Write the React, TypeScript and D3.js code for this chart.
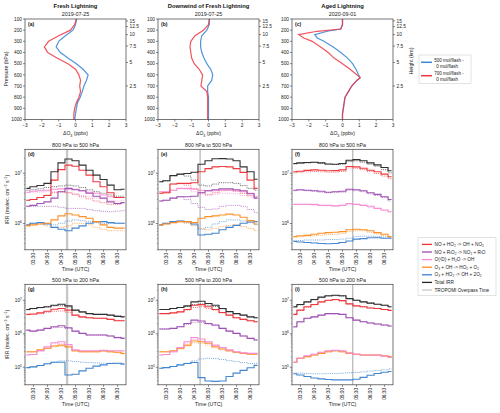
import React from 'react';
import * as d3 from 'd3';

const FONT = "'Liberation Sans', Arial, Helvetica, sans-serif";

// ---------------- Top row: ΔO3 profiles ----------------
const panelTitles = ['Fresh Lightning', 'Downwind of Fresh Lightning', 'Aged Lightning'];
const panelDates = ['2019-07-25', '2019-07-25', '2020-09-01'];
const pressureTicks = [100, 200, 300, 400, 500, 600, 700, 800, 900, 1000];
const o3Ticks = [-3, -2, -1, 0, 1, 2, 3];
const heightTicks = [2.5, 5, 7.5, 10, 12.5, 15];
const heightTickLabels = ['2.5', '5', '7.5', '10', '12.5', '15'];

const pressureAB = [100, 150, 200, 250, 300, 350, 400, 450, 500, 550, 600, 650, 700, 750, 800, 850, 900, 950, 1000];
const freshBlue = [0.07, 0.0, -0.15, -0.6, -1.0, -1.15, -0.9, -0.45, 0.05, 0.45, 0.75, 0.65, 0.5, 0.4, 0.28, 0.12, 0.05, 0.0, -0.05];
const freshRed = [0.05, -0.05, -0.3, -1.0, -1.6, -1.85, -1.65, -1.1, -0.45, 0.0, 0.2, 0.3, 0.25, 0.3, 0.2, 0.05, -0.05, -0.1, -0.1];
const downBlue = [0.05, 0.05, -0.1, -0.4, -0.47, -0.47, -0.4, -0.27, -0.1, 0.13, 0.25, 0.19, -0.05, -0.05, 0.0, 0.0, 0.0, 0.0, 0.0];
const downRed = [0.05, 0.0, -0.3, -0.8, -1.05, -1.1, -1.05, -1.0, -0.85, -0.55, -0.35, -0.4, -0.45, -0.1, -0.05, -0.05, -0.05, -0.05, -0.05];
const pressureC = [100, 150, 190, 210, 240, 270, 300, 350, 400, 450, 500, 550, 600, 625, 650, 700, 750, 800, 850, 900, 950, 1000];
const agedBlue = [0, 0, -0.1, -0.9, -1.65, -1.5, -1.1, -0.55, -0.1, 0.3, 0.6, 0.8, 0.95, 1.05, 0.85, 0.55, 0.35, 0.15, 0.1, 0.05, 0, 0];
const agedRed = [0, 0, -0.1, -1.5, -2.6, -2.3, -1.8, -1.3, -0.85, -0.5, 0.0, 0.45, 0.85, 1.05, 0.85, 0.55, 0.35, 0.15, 0.1, 0.05, 0, 0];

// ---------------- Time series: IRR ----------------
const times = ['03:15', '03:30', '03:45', '04:00', '04:15', '04:30', '04:45', '05:00', '05:15', '05:30', '05:45', '06:00', '06:15', '06:30', '06:45'];
const timeTicks = ['03:30', '04:00', '04:30', '05:00', '05:30', '06:00', '06:30'];
const tropomiTimes = ['04:42', '04:42', '05:22'];
const layerTitles = ['800 hPa to 500 hPa', '500 hPa to 200 hPa'];

// (d)
const dTot = [5.0e6, 5.4e6, 5.7e6, 6.3e6, 1.07e7, 1.61e7, 1.93e7, 1.77e7, 1.45e7, 1.15e7, 9.2e6, 7.5e6, 5.8e6, 4.7e6, 4.8e6];
const dTot0 = [4.6e6, 4.7e6, 4.9e6, 5.2e6, 5.4e6, 5.6e6, 5.8e6, 5.6e6, 5.2e6, 4.7e6, 4.3e6, 4.0e6, 3.7e6, 3.5e6, 3.5e6];
const dNOHO2 = [2.9e6, 3.0e6, 3.3e6, 3.6e6, 7.3e6, 1.18e7, 1.45e7, 1.38e7, 1.15e7, 9.2e6, 6.8e6, 5.4e6, 4.1e6, 3.3e6, 3.3e6];
const dNOHO2_0 = [2.9e6, 3.0e6, 3.3e6, 3.7e6, 4.1e6, 4.3e6, 4.1e6, 3.8e6, 3.4e6, 3.1e6, 2.8e6, 2.6e6, 2.4e6, 2.4e6, 2.6e6];
const dNORO2 = [2.2e6, 2.3e6, 2.5e6, 2.7e6, 3.2e6, 4.3e6, 5.0e6, 4.7e6, 4.5e6, 4.0e6, 3.5e6, 3.2e6, 2.7e6, 2.5e6, 2.6e6];
const dNORO2_0 = [2.2e6, 2.2e6, 2.2e6, 2.2e6, 2.2e6, 2.1e6, 2.0e6, 2.0e6, 2.0e6, 1.9e6, 1.8e6, 1.75e6, 1.72e6, 1.77e6, 1.8e6];
const dO1D = [4.2e6, 4.4e6, 4.5e6, 4.6e6, 4.8e6, 4.9e6, 4.9e6, 4.8e6, 4.5e6, 4.2e6, 4.0e6, 3.7e6, 3.4e6, 3.3e6, 3.3e6];
const dO1D_0 = [4.1e6, 4.2e6, 4.2e6, 4.3e6, 4.3e6, 4.2e6, 4.1e6, 3.9e6, 3.6e6, 3.4e6, 3.2e6, 3.1e6, 2.9e6, 2.8e6, 2.9e6];
const dO3OH = [9.0e5, 9.4e5, 9.8e5, 1.01e6, 1.18e6, 1.42e6, 1.56e6, 1.48e6, 1.37e6, 1.27e6, 1.09e6, 9.4e5, 8.4e5, 8.1e5, 8.1e5];
const dO3OH_0 = [9.0e5, 9.4e5, 9.8e5, 9.0e5, 8.4e5, 8.4e5, 9.0e5, 1.01e6, 1.01e6, 9.4e5, 8.4e5, 7.7e5, 7.2e5, 7.2e5, 7.2e5];
const dO3HO2 = [9.4e5, 1.01e6, 1.04e6, 9.8e5, 8.4e5, 7.7e5, 7.2e5, 8.1e5, 9.0e5, 1.01e6, 1.09e6, 1.09e6, 1.04e6, 1.01e6, 1.01e6];
const dO3HO2_0 = [9.4e5, 1.01e6, 1.04e6, 1.01e6, 9.4e5, 1.01e6, 1.12e6, 1.18e6, 1.14e6, 1.09e6, 1.04e6, 1.01e6, 1.01e6, 1.01e6, 1.01e6];

// (e)
const eTot = [6.8e6, 7.1e6, 9.0e6, 9.6e6, 9.9e6, 1.05e7, 1.51e7, 1.77e7, 1.95e7, 1.96e7, 1.93e7, 1.77e7, 1.34e7, 1.07e7, 7.6e6];
const eTot0 = [6.8e6, 7.1e6, 9.0e6, 9.5e6, 8.8e6, 7.3e6, 5.8e6, 5.6e6, 6.1e6, 6.5e6, 6.5e6, 6.3e6, 5.7e6, 5.0e6, 4.6e6];
const eNOHO2 = [4.0e6, 4.1e6, 6.1e6, 6.3e6, 6.3e6, 6.5e6, 1.07e7, 1.24e7, 1.34e7, 1.36e7, 1.34e7, 1.24e7, 1.04e7, 7.3e6, 5.0e6];
const eNOHO2_0 = [4.0e6, 4.1e6, 6.1e6, 6.2e6, 5.8e6, 5.0e6, 4.1e6, 3.8e6, 4.1e6, 4.5e6, 4.6e6, 4.4e6, 4.0e6, 3.6e6, 3.4e6];
const eNORO2 = [2.8e6, 2.9e6, 3.2e6, 3.4e6, 3.4e6, 3.5e6, 4.1e6, 4.5e6, 4.7e6, 4.9e6, 4.9e6, 4.7e6, 4.5e6, 3.9e6, 3.2e6];
const eNORO2_0 = [2.8e6, 2.9e6, 3.2e6, 3.4e6, 3.0e6, 2.5e6, 2.1e6, 1.9e6, 1.95e6, 2.2e6, 2.3e6, 2.3e6, 2.2e6, 1.9e6, 1.65e6];
const eO1D = [4.3e6, 4.3e6, 4.6e6, 5.0e6, 5.0e6, 4.8e6, 4.6e6, 4.5e6, 4.5e6, 4.6e6, 4.6e6, 4.5e6, 4.3e6, 4.0e6, 3.4e6];
const eO1D_0 = [4.3e6, 4.3e6, 4.6e6, 4.9e6, 4.8e6, 4.3e6, 3.9e6, 3.6e6, 3.8e6, 4.0e6, 4.0e6, 3.9e6, 3.6e6, 3.4e6, 3.2e6];
const eO3OH = [9.4e5, 9.8e5, 1.04e6, 1.09e6, 1.09e6, 1.04e6, 1.27e6, 1.37e6, 1.42e6, 1.48e6, 1.54e6, 1.48e6, 1.33e6, 1.14e6, 9.8e5];
const eO3OH_0 = [9.4e5, 9.8e5, 1.04e6, 1.07e6, 1.01e6, 9.0e5, 8.0e5, 7.5e5, 8.0e5, 8.7e5, 9.2e5, 9.4e5, 8.7e5, 8.0e5, 7.2e5];
const eO3HO2 = [9.4e5, 1.01e6, 1.09e6, 1.12e6, 1.09e6, 9.8e5, 5.9e5, 6.1e5, 6.4e5, 7.5e5, 8.4e5, 9.2e5, 1.01e6, 1.07e6, 1.09e6];
const eO3HO2_0 = [9.4e5, 1.01e6, 1.09e6, 1.12e6, 1.07e6, 9.4e5, 7.7e5, 8.4e5, 9.8e5, 1.09e6, 1.18e6, 1.18e6, 1.12e6, 1.04e6, 9.5e5];

// (f)
const fTot = [1.56e7, 1.61e7, 1.64e7, 1.66e7, 1.61e7, 1.53e7, 1.51e7, 1.56e7, 1.82e7, 1.87e7, 1.77e7, 1.61e7, 1.47e7, 1.3e7, 1.12e7];
const fTot0 = [1.53e7, 1.58e7, 1.61e7, 1.64e7, 1.58e7, 1.51e7, 1.49e7, 1.51e7, 1.71e7, 1.77e7, 1.66e7, 1.51e7, 1.38e7, 1.18e7, 1.02e7];
const fNOHO2 = [1.07e7, 1.1e7, 1.14e7, 1.17e7, 1.15e7, 1.12e7, 1.13e7, 1.17e7, 1.36e7, 1.34e7, 1.26e7, 1.15e7, 1.07e7, 9.6e6, 8.5e6];
const fNOHO2_0 = [1.02e7, 1.05e7, 1.07e7, 1.09e7, 1.07e7, 1.05e7, 1.05e7, 1.09e7, 1.28e7, 1.26e7, 1.18e7, 1.09e7, 9.9e6, 8.8e6, 7.8e6];
const fNORO2 = [4.6e6, 4.7e6, 4.6e6, 4.5e6, 4.4e6, 4.2e6, 4.3e6, 4.4e6, 4.8e6, 4.7e6, 4.5e6, 4.1e6, 3.8e6, 3.4e6, 3.0e6];
const fNORO2_0 = [4.5e6, 4.6e6, 4.5e6, 4.4e6, 4.2e6, 4.1e6, 4.2e6, 4.2e6, 4.6e6, 4.5e6, 4.3e6, 3.9e6, 3.6e6, 3.3e6, 2.8e6];
const fO1D = [2.4e6, 2.4e6, 2.4e6, 2.4e6, 2.3e6, 2.3e6, 2.25e6, 2.3e6, 2.5e6, 2.4e6, 2.3e6, 2.2e6, 2.0e6, 1.86e6, 1.72e6];
const fO1D_0 = [2.4e6, 2.4e6, 2.4e6, 2.3e6, 2.3e6, 2.25e6, 2.2e6, 2.3e6, 2.4e6, 2.4e6, 2.3e6, 2.1e6, 2.0e6, 1.83e6, 1.7e6];
const fO3OH = [5.5e5, 5.7e5, 5.8e5, 6.1e5, 6.4e5, 6.6e5, 6.7e5, 6.9e5, 7.5e5, 7.7e5, 7.5e5, 7.2e5, 6.6e5, 6.1e5, 5.5e5];
const fO3OH_0 = [5.3e5, 5.4e5, 5.6e5, 5.7e5, 5.9e5, 6.0e5, 6.1e5, 6.3e5, 6.9e5, 7.2e5, 7.2e5, 6.7e5, 6.2e5, 5.7e5, 5.3e5];
const fO3HO2 = [4.4e5, 4.3e5, 4.2e5, 4.1e5, 4.0e5, 3.95e5, 4.0e5, 4.2e5, 4.5e5, 4.9e5, 5.0e5, 5.2e5, 5.2e5, 5.1e5, 5.1e5];
const fO3HO2_0 = [4.6e5, 4.6e5, 4.7e5, 4.7e5, 4.7e5, 4.8e5, 4.8e5, 4.9e5, 5.1e5, 5.5e5, 5.6e5, 5.6e5, 5.5e5, 5.4e5, 5.3e5];

// (g)
const gTot = [5.3e6, 5.7e6, 6.1e6, 6.4e6, 7.1e6, 7.6e6, 6.8e6, 5.1e6, 4.5e6, 4.0e6, 3.8e6, 3.8e6, 3.6e6, 3.3e6, 3.2e6];
const gTot0 = [5.2e6, 5.6e6, 6.0e6, 6.3e6, 6.8e6, 6.9e6, 6.3e6, 5.0e6, 4.4e6, 4.0e6, 3.8e6, 3.8e6, 3.6e6, 3.4e6, 3.3e6];
const gNOHO2 = [3.8e6, 3.9e6, 4.2e6, 4.7e6, 5.4e6, 5.7e6, 5.1e6, 3.6e6, 3.2e6, 3.0e6, 2.9e6, 2.9e6, 2.7e6, 2.45e6, 2.45e6];
const gNOHO2_0 = [3.7e6, 3.8e6, 4.0e6, 4.4e6, 4.7e6, 4.8e6, 4.4e6, 3.5e6, 3.1e6, 3.0e6, 2.9e6, 2.9e6, 2.7e6, 2.5e6, 2.5e6];
const gNORO2 = [1.29e6, 1.2e6, 1.29e6, 1.45e6, 1.62e6, 1.74e6, 1.52e6, 1.2e6, 1.03e6, 9.2e5, 9.2e5, 9.2e5, 8.6e5, 7.7e5, 7.3e5];
const gNORO2_0 = [1.26e6, 1.2e6, 1.29e6, 1.42e6, 1.52e6, 1.55e6, 1.45e6, 1.18e6, 1.03e6, 9.2e5, 9.2e5, 9.2e5, 8.6e5, 7.9e5, 7.5e5];
const gO1D = [2.33e5, 2.4e5, 3.1e5, 4.1e5, 5.4e5, 5.8e5, 4.8e5, 3.3e5, 3.1e5, 3.1e5, 3.1e5, 3.2e5, 3.1e5, 3.1e5, 3.1e5];
const gO1D_0 = [2.33e5, 2.4e5, 3.0e5, 3.9e5, 5.0e5, 5.2e5, 4.5e5, 3.2e5, 3.0e5, 3.0e5, 3.0e5, 3.1e5, 3.0e5, 3.0e5, 3.0e5];
const gO3OH = [2.9e5, 2.9e5, 3.3e5, 3.7e5, 4.3e5, 4.6e5, 4.1e5, 3.1e5, 2.9e5, 2.9e5, 2.9e5, 3.1e5, 2.9e5, 2.8e5, 2.6e5];
const gO3OH_0 = [2.85e5, 2.85e5, 3.2e5, 3.6e5, 4.1e5, 4.3e5, 3.9e5, 3.0e5, 2.85e5, 2.85e5, 2.85e5, 3.0e5, 2.85e5, 2.7e5, 2.55e5];
const gO3HO2 = [9.8e4, 1.03e5, 1.13e5, 1.27e5, 1.42e5, 1.42e5, 5.9e4, 6.2e4, 7.8e4, 9.4e4, 1.08e5, 1.18e5, 1.3e5, 1.32e5, 1.24e5];
const gO3HO2_0 = [9.8e4, 1.03e5, 1.13e5, 1.27e5, 1.42e5, 1.55e5, 1.55e5, 1.48e5, 1.42e5, 1.38e5, 1.35e5, 1.32e5, 1.32e5, 1.3e5, 1.32e5];

// (h)
const hTot = [5.3e6, 5.3e6, 5.7e6, 6.1e6, 6.8e6, 8.95e6, 9.4e6, 8.0e6, 7.1e6, 5.7e6, 4.6e6, 4.0e6, 3.6e6, 3.2e6, 3.0e6];
const hTot0 = [5.3e6, 5.3e6, 5.7e6, 6.1e6, 6.5e6, 7.4e6, 7.8e6, 7.1e6, 6.5e6, 5.6e6, 4.6e6, 4.0e6, 3.6e6, 3.2e6, 3.0e6];
const hNOHO2 = [4.0e6, 4.0e6, 4.2e6, 4.5e6, 5.3e6, 7.1e6, 7.4e6, 6.4e6, 5.3e6, 4.3e6, 3.6e6, 3.0e6, 2.7e6, 2.45e6, 2.28e6];
const hNOHO2_0 = [4.0e6, 4.0e6, 4.2e6, 4.5e6, 5.1e6, 6.1e6, 6.4e6, 5.7e6, 5.1e6, 4.2e6, 3.6e6, 3.0e6, 2.7e6, 2.45e6, 2.28e6];
const hNORO2 = [1.39e6, 1.39e6, 1.45e6, 1.62e6, 2.03e6, 2.55e6, 2.4e6, 2.03e6, 1.82e6, 1.45e6, 1.2e6, 1.03e6, 8.6e5, 7.3e5, 6.5e5];
const hNORO2_0 = [1.39e6, 1.39e6, 1.45e6, 1.62e6, 1.9e6, 2.2e6, 2.15e6, 1.95e6, 1.75e6, 1.45e6, 1.2e6, 1.03e6, 8.6e5, 7.3e5, 6.5e5];
const hO1D = [2.33e5, 2.4e5, 2.9e5, 3.9e5, 5.8e5, 7.7e5, 7.0e5, 5.8e5, 4.6e5, 3.9e5, 3.3e5, 2.9e5, 2.7e5, 2.6e5, 2.6e5];
const hO1D_0 = [2.33e5, 2.4e5, 2.85e5, 3.7e5, 5.3e5, 6.7e5, 6.2e5, 5.3e5, 4.4e5, 3.8e5, 3.25e5, 2.85e5, 2.65e5, 2.6e5, 2.6e5];
const hO3OH = [2.9e5, 2.9e5, 3.1e5, 3.7e5, 4.6e5, 6.1e5, 5.8e5, 5.2e5, 4.1e5, 3.5e5, 3.1e5, 2.8e5, 2.6e5, 2.45e5, 2.45e5];
const hO3OH_0 = [2.85e5, 2.85e5, 3.0e5, 3.5e5, 4.3e5, 5.4e5, 5.2e5, 4.6e5, 3.8e5, 3.3e5, 3.0e5, 2.75e5, 2.55e5, 2.45e5, 2.45e5];
const hO3HO2 = [9.4e4, 9.8e4, 1.05e5, 1.18e5, 1.3e5, 1.39e5, 4.9e4, 3.9e4, 3.8e4, 3.9e4, 5.3e4, 6.7e4, 8.1e4, 9.7e4, 1.14e5];
const hO3HO2_0 = [9.4e4, 9.8e4, 1.05e5, 1.18e5, 1.32e5, 1.55e5, 1.78e5, 1.86e5, 1.82e5, 1.7e5, 1.58e5, 1.48e5, 1.38e5, 1.29e5, 1.32e5];

// (i)
const iTot = [6.4e6, 7.5e6, 8.95e6, 1.05e7, 1.24e7, 1.36e7, 1.41e7, 1.36e7, 1.12e7, 1.0e7, 8.95e6, 8.2e6, 7.6e6, 7.1e6, 6.4e6];
const iTot0 = [6.2e6, 7.3e6, 8.8e6, 1.03e7, 1.2e7, 1.33e7, 1.38e7, 1.33e7, 1.12e7, 1.0e7, 8.95e6, 8.2e6, 7.6e6, 7.1e6, 6.4e6];
const iNOHO2 = [3.8e6, 5.1e6, 6.4e6, 7.5e6, 8.95e6, 1.0e7, 1.05e7, 9.8e6, 7.8e6, 6.8e6, 6.4e6, 5.9e6, 5.7e6, 5.3e6, 5.0e6];
const iNOHO2_0 = [3.7e6, 5.0e6, 6.2e6, 7.3e6, 8.8e6, 9.8e6, 1.03e7, 9.6e6, 7.8e6, 6.8e6, 6.4e6, 5.9e6, 5.7e6, 5.3e6, 5.0e6];
const iNORO2 = [1.62e6, 2.28e6, 2.9e6, 3.2e6, 3.6e6, 4.0e6, 4.0e6, 3.8e6, 3.0e6, 2.55e6, 2.28e6, 2.1e6, 1.95e6, 1.82e6, 1.7e6];
const iNORO2_0 = [1.58e6, 2.23e6, 2.85e6, 3.15e6, 3.55e6, 3.95e6, 3.95e6, 3.75e6, 3.0e6, 2.55e6, 2.28e6, 2.1e6, 1.95e6, 1.82e6, 1.7e6];
const iO1D = [1.42e5, 1.86e5, 2.2e5, 2.45e5, 2.8e5, 3.1e5, 3.2e5, 3.1e5, 2.7e5, 2.45e5, 2.33e5, 2.33e5, 2.3e5, 2.15e5, 1.95e5];
const iO1D_0 = [1.4e5, 1.84e5, 2.18e5, 2.43e5, 2.78e5, 3.05e5, 3.15e5, 3.05e5, 2.68e5, 2.43e5, 2.3e5, 2.3e5, 2.28e5, 2.12e5, 1.93e5];
const iO3OH = [1.42e5, 1.86e5, 2.08e5, 2.33e5, 2.6e5, 2.9e5, 3.1e5, 2.9e5, 2.6e5, 2.45e5, 2.33e5, 2.33e5, 2.33e5, 2.2e5, 2.08e5];
const iO3OH_0 = [1.4e5, 1.84e5, 2.06e5, 2.3e5, 2.57e5, 2.86e5, 3.05e5, 2.86e5, 2.57e5, 2.43e5, 2.31e5, 2.31e5, 2.31e5, 2.18e5, 2.06e5];
const iO3HO2 = [6.4e4, 5.9e4, 5.3e4, 4.8e4, 4.5e4, 4.3e4, 4.2e4, 4.2e4, 4.2e4, 4.4e4, 5.0e4, 5.8e4, 6.5e4, 7.1e4, 7.5e4];
const iO3HO2_0 = [6.7e4, 6.7e4, 6.5e4, 6.4e4, 6.4e4, 6.5e4, 6.5e4, 6.7e4, 6.9e4, 7.0e4, 7.3e4, 7.7e4, 8.0e4, 8.4e4, 9.0e4];

const reactionNames = ['NO + HO₂ -> OH + NO₂', 'NO + RᵢO₂ -> NO₂ + RᵢO', 'O(¹D) + H₂O -> OH', 'O₃ + OH -> HO₂ + O₂', 'O₃ + HO₂ -> OH + 2O₂', 'Total IRR', 'TROPOMI Overpass Time'];
const legendTopNames = [['500 mol/flash -', '0 mol/flash'], ['700 mol/flash -', '0 mol/flash']];

// ---------------- styling ----------------
const COL = {
  red: '#ee2f35',
  purple: '#9b4bb0',
  pink: '#f58bd3',
  orange: '#fd8b1f',
  blue: '#3a80cc',
  black: '#262626',
  trop: '#c8c8c8',
  pBlue: '#3d88d6',
  pRed: '#f0353f',
};
const reactionColors = [COL.red, COL.purple, COL.pink, COL.orange, COL.blue, COL.black, COL.trop];

const toMin = (s: string) => {
  const [h, m] = s.split(':').map(Number);
  return h * 60 + m;
};
const timeMin = times.map(toMin);
const PW = 101;
const PH = 100.5;
const COLS = [25, 158, 292];
const AXIS = '#3a3a3a';

function ProfilePanel({ idx, press, blue, red }: { idx: number; press: number[]; blue: number[]; red: number[] }) {
  const x0 = COLS[idx];
  const top = 19;
  const x = d3.scaleLinear().domain([-3, 3]).range([x0, x0 + PW]);
  const y = d3.scaleLinear().domain([100, 1000]).range([top, top + PH]);
  const line = d3.line<number>().x((v) => x(v)).y((_, i) => y(press[i]));
  const tag = ['(a)', '(b)', '(c)'][idx];
  const cx = x0 + PW / 2;
  return (
    <g>
      <text x={cx} y={8} textAnchor="middle" fontSize={5.8} fontWeight="bold" fill="#111">{panelTitles[idx]}</text>
      <text x={cx} y={16.3} textAnchor="middle" fontSize={5.4} fill="#222">{panelDates[idx]}</text>
      <path d={line(blue) || ''} fill="none" stroke={COL.pBlue} strokeWidth={1.2} strokeOpacity={0.9} />
      <path d={line(red) || ''} fill="none" stroke={COL.pRed} strokeWidth={1.2} strokeOpacity={0.85} />
      <rect x={x0} y={top} width={PW} height={PH} fill="none" stroke={AXIS} strokeWidth={0.7} />
      {pressureTicks.map((p) => (
        <g key={p}>
          <line x1={x0 - 2} x2={x0} y1={y(p)} y2={y(p)} stroke={AXIS} strokeWidth={0.6} />
          <text x={x0 - 3} y={y(p) + 1.7} textAnchor="end" fontSize={4.8} fill="#222">{p}</text>
        </g>
      ))}
      {o3Ticks.map((t) => (
        <g key={t}>
          <line x1={x(t)} x2={x(t)} y1={top + PH} y2={top + PH + 2} stroke={AXIS} strokeWidth={0.6} />
          <text x={x(t)} y={top + PH + 7.8} textAnchor="middle" fontSize={4.8} fill="#222">{t < 0 ? '−' + Math.abs(t) : String(t)}</text>
        </g>
      ))}
      {heightTicks.map((h, i) => {
        const yy = y(1000 * Math.exp(-h / 7));
        return (
          <g key={h}>
            <line x1={x0 + PW} x2={x0 + PW + 2} y1={yy} y2={yy} stroke={AXIS} strokeWidth={0.6} />
            <text x={x0 + PW + 3.5} y={yy + 1.7} fontSize={4.8} fill="#222">{heightTickLabels[i]}</text>
          </g>
        );
      })}
      <text x={cx} y={135.3} textAnchor="middle" fontSize={5} fill="#222">ΔO<tspan fontSize={3.6} dy={1.2}>3</tspan><tspan dy={-1.2}> (ppbv)</tspan></text>
      <text x={x0 + 3} y={top + 7} fontSize={5} fontWeight="bold" fill="#111">{tag}</text>
    </g>
  );
}

type Series = { v: number[]; color: string; dotted?: boolean };

function TSPanel({ idx, row, series }: { idx: number; row: number; series: Series[] }) {
  const x0 = COLS[idx];
  const top = row === 0 ? 149.3 : 284.3;
  const domY = row === 0 ? [3e5, 3e7] : [3e4, 3e7];
  const x = d3.scaleLinear().domain([192, 408]).range([x0, x0 + PW]);
  const y = d3.scaleLog().domain(domY).range([top + PH, top]);
  const line = d3.line<number>().x((_, i) => x(timeMin[i])).y((v) => y(v)).curve(d3.curveStep);
  const majors = row === 0 ? [1e6, 1e7] : [1e5, 1e6, 1e7];
  const minors: number[] = [];
  for (let k = 4; k <= 7; k++) for (let m = 2; m <= 9; m++) {
    const v = m * Math.pow(10, k);
    if (v >= domY[0] && v <= domY[1]) minors.push(v);
  }
  const tag = row === 0 ? ['(d)', '(e)', '(f)'][idx] : ['(g)', '(h)', '(i)'][idx];
  const clipId = `clip-${row}-${idx}`;
  const tt = x(toMin(tropomiTimes[idx]));
  const thick = idx === 0;
  const cx = x0 + PW / 2;
  return (
    <g>
      <defs>
        <clipPath id={clipId}>
          <rect x={x0} y={top} width={PW} height={PH} />
        </clipPath>
      </defs>
      <text x={cx} y={top - 2.8} textAnchor="middle" fontSize={5.3} fill="#222">{layerTitles[row]}</text>
      <g clipPath={`url(#${clipId})`}>
        <line x1={tt} x2={tt} y1={top} y2={top + PH} stroke={thick ? COL.trop : '#8d8d8d'} strokeWidth={thick ? 2.4 : 0.8} />
        {series.filter((s) => s.dotted).map((s, i) => (
          <path key={'d' + i} d={line(s.v) || ''} fill="none" stroke={s.color} strokeWidth={1} strokeOpacity={0.65} strokeDasharray="1.1 1.1" />
        ))}
        {series.filter((s) => !s.dotted).map((s, i) => (
          <path key={'s' + i} d={line(s.v) || ''} fill="none" stroke={s.color} strokeWidth={1.1} strokeOpacity={0.95} />
        ))}
      </g>
      <rect x={x0} y={top} width={PW} height={PH} fill="none" stroke={AXIS} strokeWidth={0.7} />
      {minors.map((v) => (
        <line key={v} x1={x0 - 1.2} x2={x0} y1={y(v)} y2={y(v)} stroke={AXIS} strokeWidth={0.4} />
      ))}
      {majors.map((v) => (
        <g key={v}>
          <line x1={x0 - 2.2} x2={x0} y1={y(v)} y2={y(v)} stroke={AXIS} strokeWidth={0.6} />
          <text x={x0 - 3} y={y(v) + 1.6} textAnchor="end" fontSize={4.8} fill="#222">10<tspan fontSize={3.4} dy={-2}>{Math.round(Math.log10(v))}</tspan></text>
        </g>
      ))}
      {timeTicks.map((t) => {
        const xx = x(toMin(t));
        return (
          <g key={t}>
            <line x1={xx} x2={xx} y1={top + PH} y2={top + PH + 2} stroke={AXIS} strokeWidth={0.6} />
            <text transform={`translate(${xx + 1.7},${top + PH + 3})rotate(-90)`} textAnchor="end" fontSize={4.8} fill="#222">{t}</text>
          </g>
        );
      })}
      <text x={cx} y={top + PH + 21.5} textAnchor="middle" fontSize={5.3} fill="#222">Time (UTC)</text>
      <text x={x0 + 3} y={top + 7} fontSize={5} fontWeight="bold" fill="#111">{tag}</text>
      {idx === 0 && (
        <text transform={`translate(8.5,${top + PH / 2})rotate(-90)`} textAnchor="middle" fontSize={5.2} fill="#222">
          IRR (molec. cm<tspan fontSize={3.6} dy={-2}>−3</tspan><tspan dy={2}> s</tspan><tspan fontSize={3.6} dy={-2}>−1</tspan><tspan dy={2}>)</tspan>
        </text>
      )}
    </g>
  );
}

const mk = (tot: number[], tot0: number[], a: number[], a0: number[], b: number[], b0: number[], c: number[], c0: number[], d: number[], d0: number[], e: number[], e0: number[]): Series[] => [
  { v: e0, color: COL.blue, dotted: true },
  { v: d0, color: COL.orange, dotted: true },
  { v: c0, color: COL.pink, dotted: true },
  { v: b0, color: COL.purple, dotted: true },
  { v: a0, color: COL.red, dotted: true },
  { v: tot0, color: COL.black, dotted: true },
  { v: e, color: COL.blue },
  { v: d, color: COL.orange },
  { v: c, color: COL.pink },
  { v: b, color: COL.purple },
  { v: a, color: COL.red },
  { v: tot, color: COL.black },
];

export default function App() {
  const panelsMid = [
    mk(dTot, dTot0, dNOHO2, dNOHO2_0, dNORO2, dNORO2_0, dO1D, dO1D_0, dO3OH, dO3OH_0, dO3HO2, dO3HO2_0),
    mk(eTot, eTot0, eNOHO2, eNOHO2_0, eNORO2, eNORO2_0, eO1D, eO1D_0, eO3OH, eO3OH_0, eO3HO2, eO3HO2_0),
    mk(fTot, fTot0, fNOHO2, fNOHO2_0, fNORO2, fNORO2_0, fO1D, fO1D_0, fO3OH, fO3OH_0, fO3HO2, fO3HO2_0),
  ];
  const panelsBot = [
    mk(gTot, gTot0, gNOHO2, gNOHO2_0, gNORO2, gNORO2_0, gO1D, gO1D_0, gO3OH, gO3OH_0, gO3HO2, gO3HO2_0),
    mk(hTot, hTot0, hNOHO2, hNOHO2_0, hNORO2, hNORO2_0, hO1D, hO1D_0, hO3OH, hO3OH_0, hO3HO2, hO3HO2_0),
    mk(iTot, iTot0, iNOHO2, iNOHO2_0, iNORO2, iNORO2_0, iO1D, iO1D_0, iO3OH, iO3OH_0, iO3HO2, iO3HO2_0),
  ];
  return (
    <svg width={500} height={413} viewBox="0 0 500 413" style={{ position: 'absolute', left: 0, top: 0, background: '#fff' }} fontFamily={FONT}>
      <rect width={500} height={413} fill="#fff" />
      <ProfilePanel idx={0} press={pressureAB} blue={freshBlue} red={freshRed} />
      <ProfilePanel idx={1} press={pressureAB} blue={downBlue} red={downRed} />
      <ProfilePanel idx={2} press={pressureC} blue={agedBlue} red={agedRed} />
      <text transform="translate(7.5,69)rotate(-90)" textAnchor="middle" fontSize={5.2} fill="#222">Pressure (hPa)</text>
      <text transform="translate(413,61)rotate(-90)" textAnchor="middle" fontSize={5.2} fill="#222">Height (km)</text>

      {/* top legend */}
      <g>
        <rect x={419} y={55} width={52} height={28.3} fill="#fff" stroke="#cfcfcf" strokeWidth={0.6} />
        {legendTopNames.map((lines, i) => {
          const yy = 62.3 + i * 13.4;
          return (
            <g key={i}>
              <line x1={421} x2={432} y1={yy} y2={yy} stroke={i === 0 ? COL.pBlue : COL.pRed} strokeWidth={1.5} />
              <text x={434.3} y={yy - 0.5} fontSize={4.5} fill="#222">{lines[0]}</text>
              <text x={436.3} y={yy + 5.3} fontSize={4.5} fill="#222">{lines[1]}</text>
            </g>
          );
        })}
      </g>

      {panelsMid.map((s, i) => <TSPanel key={'m' + i} idx={i} row={0} series={s} />)}
      {panelsBot.map((s, i) => <TSPanel key={'b' + i} idx={i} row={1} series={s} />)}

      {/* bottom legend */}
      <g>
        <rect x={418} y={237.7} width={78} height={58} fill="#fff" stroke="#cfcfcf" strokeWidth={0.6} />
        {reactionNames.map((n, i) => {
          const yy = 244.4 + i * 7.6;
          return (
            <g key={n}>
              <line x1={422} x2={432} y1={yy} y2={yy} stroke={reactionColors[i]} strokeWidth={1.3} />
              <text x={434.5} y={yy + 1.6} fontSize={4.7} fill="#222">{n}</text>
            </g>
          );
        })}
      </g>
    </svg>
  );
}
